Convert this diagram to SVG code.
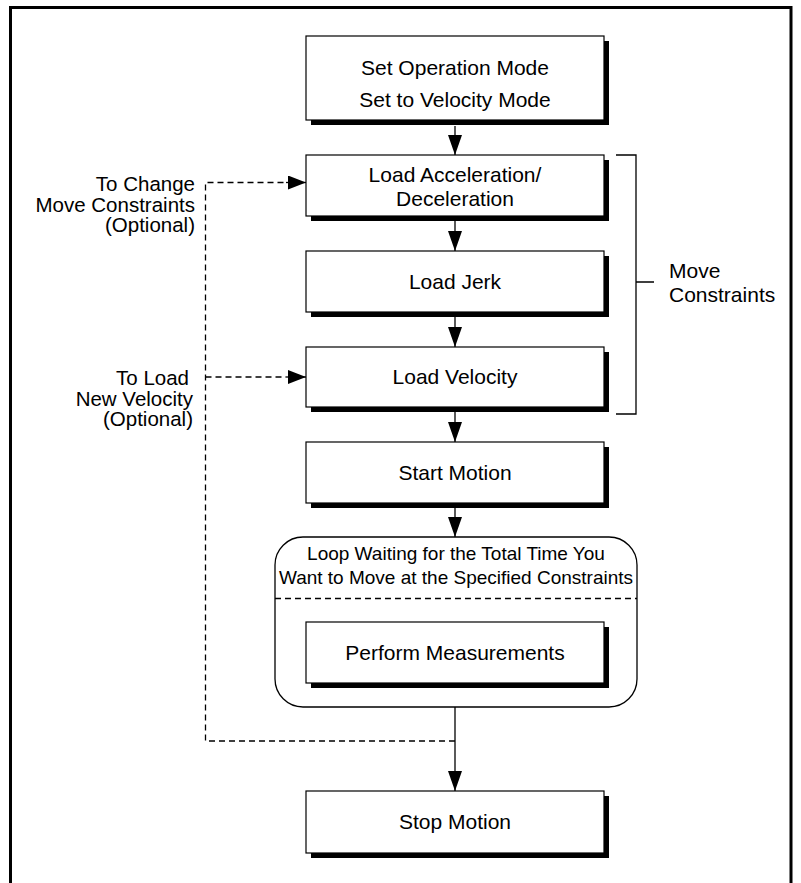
<svg xmlns="http://www.w3.org/2000/svg" width="801" height="883" viewBox="0 0 801 883">
<defs>
<style>
.box{fill:#fff;stroke:#000;stroke-width:1.2}
.sh{fill:#000}
.t{font-family:"Liberation Sans",Arial,sans-serif;font-size:21px;fill:#000;text-anchor:middle}
.lt{font-family:"Liberation Sans",Arial,sans-serif;font-size:20.5px;fill:#000;text-anchor:end}
.rt{font-family:"Liberation Sans",Arial,sans-serif;font-size:21px;fill:#000}
.loopt{font-family:"Liberation Sans",Arial,sans-serif;font-size:19px;fill:#000;text-anchor:middle}
.ln{fill:none;stroke:#000;stroke-width:1.3}
.dash{fill:none;stroke:#000;stroke-width:1.3;stroke-dasharray:6 4}
</style>
<marker id="ah" markerWidth="20" markerHeight="14" refX="20" refY="7" orient="auto" markerUnits="userSpaceOnUse">
<path d="M0,0 L20,7 L0,14 Z" fill="#000"/>
</marker>
<marker id="ahs" markerWidth="18" markerHeight="14" refX="18" refY="7" orient="auto" markerUnits="userSpaceOnUse">
<path d="M0,0 L18,7 L0,14 Z" fill="#000"/>
</marker>
</defs>
<rect width="801" height="883" fill="#fff"/>
<path d="M10.5,883 V7.5 H791 V883" fill="none" stroke="#000" stroke-width="3"/>

<g id="connectors">
<line class="ln" x1="455" y1="126" x2="455" y2="155" marker-end="url(#ah)"/>
<line class="ln" x1="455" y1="221" x2="455" y2="251" marker-end="url(#ah)"/>
<line class="ln" x1="455" y1="317" x2="455" y2="347" marker-end="url(#ah)"/>
<line class="ln" x1="455" y1="412" x2="455" y2="442" marker-end="url(#ah)"/>
<line class="ln" x1="455" y1="508" x2="455" y2="537" marker-end="url(#ah)"/>
<line class="ln" x1="455" y1="707" x2="455" y2="791" marker-end="url(#ah)"/>
<path class="dash" d="M455,741 H205.5 V182.5 H286"/>
<line class="ln" x1="286" y1="182.5" x2="306" y2="182.5" marker-end="url(#ahs)"/>
<path class="dash" d="M205.5,377 H286"/>
<line class="ln" x1="286" y1="377" x2="306" y2="377" marker-end="url(#ahs)"/>
</g>

<g id="n-setmode">
<rect class="sh" x="311" y="41" width="298" height="84"/>
<rect class="box" x="306" y="36" width="298" height="84"/>
<text class="t" x="455" y="75">Set Operation Mode</text>
<text class="t" x="455" y="107">Set to Velocity Mode</text>
</g>
<g id="n-accel">
<rect class="sh" x="311" y="160" width="298" height="61"/>
<rect class="box" x="306" y="155" width="298" height="61"/>
<text class="t" x="455" y="182">Load Acceleration/</text>
<text class="t" x="455" y="206">Deceleration</text>
</g>
<g id="n-jerk">
<rect class="sh" x="311" y="256" width="298" height="61"/>
<rect class="box" x="306" y="251" width="298" height="61"/>
<text class="t" x="455" y="289">Load Jerk</text>
</g>
<g id="n-velocity">
<rect class="sh" x="311" y="352" width="298" height="60"/>
<rect class="box" x="306" y="347" width="298" height="60"/>
<text class="t" x="455" y="384">Load Velocity</text>
</g>
<g id="n-start">
<rect class="sh" x="311" y="447" width="298" height="61"/>
<rect class="box" x="306" y="442" width="298" height="61"/>
<text class="t" x="455" y="480">Start Motion</text>
</g>
<g id="n-loop">
<rect x="275" y="537" width="362" height="170" rx="28" ry="28" fill="#fff" stroke="#000" stroke-width="1.3"/>
<text class="loopt" x="456" y="560">Loop Waiting for the Total Time You</text>
<text class="loopt" x="456" y="584">Want to Move at the Specified Constraints</text>
<line class="dash" x1="275" y1="598.5" x2="637" y2="598.5"/>
</g>
<g id="n-measure">
<rect class="sh" x="311" y="627" width="298" height="61"/>
<rect class="box" x="306" y="622" width="298" height="61"/>
<text class="t" x="455" y="660">Perform Measurements</text>
</g>
<g id="n-stop">
<rect class="sh" x="311" y="796" width="298" height="62"/>
<rect class="box" x="306" y="791" width="298" height="62"/>
<text class="t" x="455" y="829">Stop Motion</text>
</g>

<g id="n-bracket">
<path class="ln" d="M616,155 H636 V414 H616 M636,282 H654"/>
<text class="rt" x="669" y="278">Move</text>
<text class="rt" x="669" y="302">Constraints</text>
</g>
<g id="n-label-change">
<text class="lt" x="195" y="191">To Change</text>
<text class="lt" x="195" y="211.5">Move Constraints</text>
<text class="lt" x="195" y="232">(Optional)</text>
</g>
<g id="n-label-velocity">
<text class="lt" x="189" y="385">To Load</text>
<text class="lt" x="193" y="405.5">New Velocity</text>
<text class="lt" x="193" y="426">(Optional)</text>
</g>
</svg>
